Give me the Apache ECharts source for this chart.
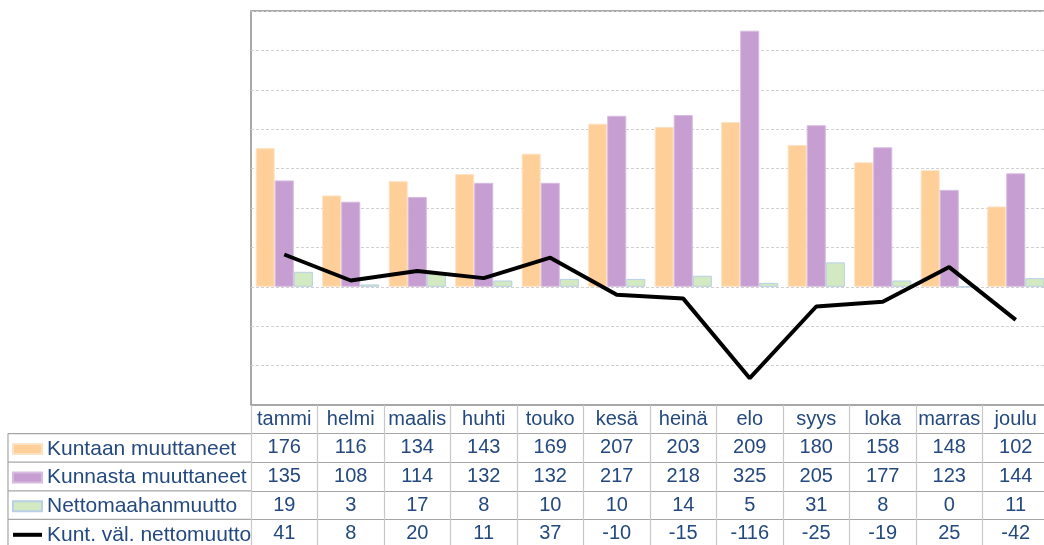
<!DOCTYPE html>
<html>
<head>
<meta charset="utf-8">
<script src="https://cdn.jsdelivr.net/npm/echarts@6/dist/echarts.min.js"></script>
<style>
  html, body { margin: 0; padding: 0; background: #fff; }
  #chart { width: 1044px; height: 545px; }
</style>
</head>
<body>
<div id="chart"></div>
<script type="text/javascript">
	var months = ['tammi', 'helmi', 'maalis', 'huhti', 'touko', 'kesä', 'heinä', 'elo', 'syys', 'loka', 'marras', 'joulu'];
	var kuntaan = [176, 116, 134, 143, 169, 207, 203, 209, 180, 158, 148, 102];
	var kunnasta = [135, 108, 114, 132, 132, 217, 218, 325, 205, 177, 123, 144];
	var nettomaahan = [19, 3, 17, 8, 10, 10, 14, 5, 31, 8, 0, 11];
	var kuntVal = [41, 8, 20, 11, 37, -10, -15, -116, -25, -19, 25, -42];
	var names = ['Kuntaan muuttaneet', 'Kunnasta muuttaneet', 'Nettomaahanmuutto', 'Kunt. väl. nettomuutto'];

	var textColor = '#24497f';
	var rowH = 28.6;
	var tableTop = 405;

	var chart = echarts.init(document.getElementById('chart'));

	// taulukon vasen sarake (selitteiden rivit)
	var tableLines = [];
	for (var r = 1; r <= 4; r++) {
		tableLines.push({
			type: 'line',
			shape: { x1: 8, y1: tableTop + r * rowH, x2: 251, y2: tableTop + r * rowH },
			style: { stroke: '#a6a6a6', lineWidth: 1.2 }
		});
	}
	tableLines.push({
		type: 'line',
		shape: { x1: 8, y1: tableTop + rowH, x2: 8, y2: 545 },
		style: { stroke: '#a6a6a6', lineWidth: 1.2 }
	});

	var option = {
		animation: false,
		textStyle: { fontFamily: 'Liberation Sans, Arial, sans-serif' },
		grid: [
			{ left: 251, right: -5, top: 11, bottom: 140, show: true, borderColor: '#8c8c8c', borderWidth: 1.5, outerBoundsMode: 'none' },
			{ left: 251, right: -5, top: tableTop, bottom: -3, outerBoundsMode: 'none' }
		],
		legend: {
			orient: 'vertical',
			left: 11,
			top: 438,
			height: 200,
			padding: 0,
			itemGap: 6.6,
			itemWidth: 29,
			itemHeight: 10,
			textStyle: { fontSize: 21, color: textColor, lineHeight: 22 },
			data: [
				{ name: names[0], icon: 'rect' },
				{ name: names[1], icon: 'rect' },
				{ name: names[2], icon: 'rect' },
				{ name: names[3], itemStyle: { opacity: 0 }, lineStyle: { width: 4, color: '#000' } }
			]
		},
		xAxis: [
			{
				type: 'category',
				gridIndex: 0,
				data: months,
				axisLine: { show: false },
				axisTick: { show: false },
				axisLabel: {
					margin: 0,
					fontSize: 20,
					color: textColor,
					lineHeight: rowH,
					interval: 0,
					formatter: function (v, i) {
						return [v, kuntaan[i], kunnasta[i], nettomaahan[i], kuntVal[i]].join('\n');
					}
				}
			},
			{
				type: 'category',
				gridIndex: 1,
				data: months,
				axisLine: { show: false },
				axisTick: { show: false },
				axisLabel: { show: false },
				splitLine: { show: true, lineStyle: { color: '#c8c8c8', width: 1.2 } }
			}
		],
		yAxis: [
			{
				type: 'value',
				gridIndex: 0,
				min: -150,
				max: 350,
				interval: 50,
				axisLabel: { show: false },
				axisLine: { show: false },
				axisTick: { show: false },
				splitLine: { lineStyle: { color: '#d0d0d0', type: [3, 2], width: 1 } }
			},
			{
				type: 'value',
				gridIndex: 1,
				min: 0,
				max: 5,
				interval: 1,
				axisLabel: { show: false },
				axisLine: { show: false },
				axisTick: { show: false },
				splitLine: { lineStyle: { color: '#a6a6a6', width: 1.2 } }
			}
		],
		graphic: tableLines,
		series: [
			{
				name: names[0],
				type: 'bar',
				data: kuntaan,
				barGap: '0%',
				barCategoryGap: '14%',
				itemStyle: { color: '#fecf98', borderColor: '#fde3c6', borderWidth: 1 }
			},
			{
				name: names[1],
				type: 'bar',
				data: kunnasta,
				itemStyle: { color: '#c69ed2', borderColor: '#d7bce0', borderWidth: 1 }
			},
			{
				name: names[2],
				type: 'bar',
				data: nettomaahan,
				itemStyle: { color: '#d3e9c1', borderColor: '#b9cfe6', borderWidth: 1 }
			},
			{
				name: names[3],
				type: 'line',
				data: kuntVal,
				symbol: 'none',
				z: 5,
				lineStyle: { color: '#000', width: 4 },
				itemStyle: { color: '#000' }
			}
		]
	};

	chart.setOption(option);
</script>
</body>
</html>
